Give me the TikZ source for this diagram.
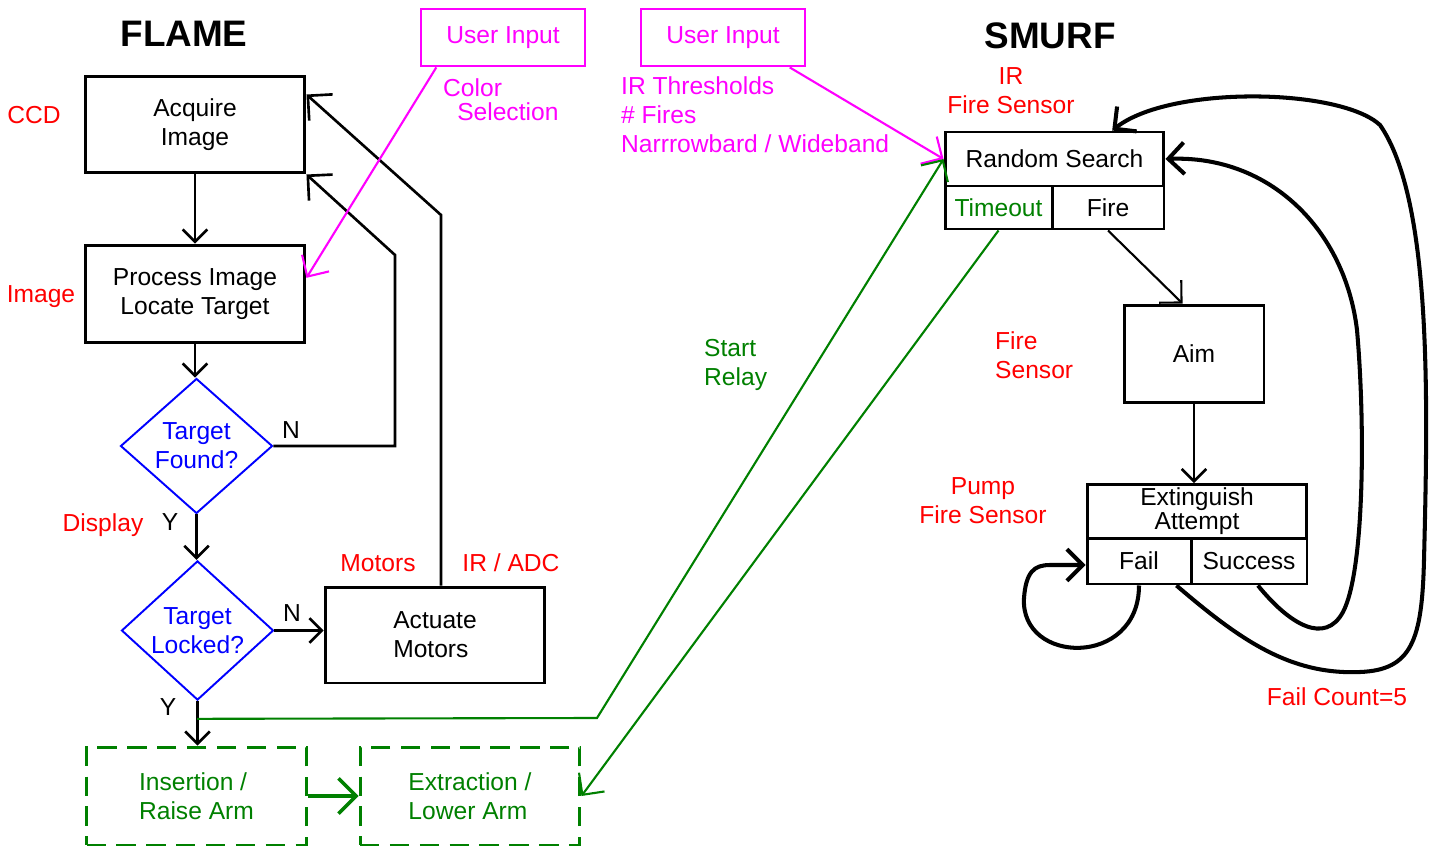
\documentclass[tikz,border=0pt]{standalone}
\usepackage{fontspec}
\setmainfont{Liberation Sans}
\usetikzlibrary{arrows.meta, shapes.geometric, calc}

\definecolor{relaygreen}{RGB}{0,128,0}
\definecolor{inputpink}{RGB}{255,0,255}

\begin{document}
\begin{tikzpicture}[
    x=0.02cm, y=-0.02cm, % one unit = one pixel of the sketch
    >={Straight Barb[length=7pt, width=14pt]}, % open V arrow heads
    font=\fontsize{14}{16.5}\selectfont,
    box/.style={draw, line width=1.7pt, inner sep=2pt, align=center},
    decision/.style={diamond, draw=blue, text=blue, line width=1.1pt, inner sep=0pt,
        minimum width=3.04cm, minimum height=2.7cm, align=center},
    userbox/.style={draw=inputpink, text=inputpink, line width=1.6pt,
        minimum width=3.28cm, minimum height=1.14cm},
    armbox/.style={draw=relaygreen, text=relaygreen, line width=1.7pt,
        dash pattern=on 11pt off 6pt, minimum width=4.4cm, minimum height=1.96cm, align=left},
    note/.style={text=red, align=left},
    heading/.style={font=\fontsize{21}{24}\selectfont\bfseries},
    flowline/.style={->, line width=1.5pt},
    backline/.style={->, line width=1.5pt, >={Straight Barb[length=10pt, width=20pt]}},
    thinline/.style={->, line width=1.2pt, >={Straight Barb[length=9pt, width=18pt]}},
    retline/.style={->, line width=2.3pt, >={Straight Barb[length=9pt, width=18pt]}}
]
\useasboundingbox (0,0) rectangle (1434,848);

% FLAME side
\node[heading] (flame) at (184,34) {FLAME};
\node[box, minimum width=4.4cm, minimum height=1.94cm] (acquire) at (195,124.5) {Acquire\\Image};
\node[box, minimum width=4.4cm, minimum height=1.96cm] (process) at (195,294) {Process Image\\Locate Target};
\node[decision] (found) at (196.5,446) {Target\\Found?};
\node[decision] (locked) at (197.5,630.5) {Target\\Locked?};
\node[box, minimum width=4.4cm, minimum height=1.92cm, align=left] (actuate) at (435,635) {Actuate\\Motors};
\node[armbox] (insert) at (196.5,796) {Insertion /\\Raise Arm};
\node[armbox] (extract) at (470,796) {Extraction /\\Lower Arm};

% Y / N answers
\node (nfound) at (291,430) {N};
\node (yfound) at (170,522) {Y};
\node (nlocked) at (292,613) {N};
\node (ylocked) at (168,707) {Y};

% red hardware notes
\node[note] (ccd) at (34,115) {CCD};
\node[note] (imglabel) at (41,297) {Image};
\node[note] (display) at (103,525) {Display};
\node[note] (motors) at (378,563) {Motors};
\node[note] (iradc) at (511,563) {IR / ADC};

% user inputs
\node[userbox] (user1) at (503,37.5) {User Input};
\node[userbox] (user2) at (723,37.5) {User Input};
\node[text=inputpink, align=left, anchor=west, font=\fontsize{14}{13.6}\selectfont] (colorsel) at (437,100) {Color\\\hspace*{8pt}Selection};
\node[text=inputpink, align=left, anchor=west] (irset) at (615,115) {IR Thresholds\\\# Fires\\Narrrowbard / Wideband};

% SMURF side
\node[heading] (smurf) at (1050,36) {SMURF};
\node[box, minimum width=4.38cm, minimum height=1.08cm] (search) at (1054.5,159) {Random Search};
\node[box, minimum width=2.14cm, minimum height=0.86cm, text=relaygreen] (timeout) at (998.5,207.5) {Timeout};
\node[box, minimum width=2.24cm, minimum height=0.86cm] (fire) at (1108,207.5) {Fire};
\node[box, minimum width=2.8cm, minimum height=1.96cm] (aim) at (1194,354) {Aim};
\node[box, minimum width=4.4cm, minimum height=1.06cm, font=\fontsize{14}{12.5}\selectfont] (exting) at (1197,511.5) {Extinguish\\Attempt};
\node[box, minimum width=2.08cm, minimum height=0.92cm] (fail) at (1139,561) {Fail};
\node[box, minimum width=2.32cm, minimum height=0.92cm] (success) at (1249,561) {Success};

\node[note, align=center] (irsensor) at (1011,91) {IR\\Fire Sensor};
\node[note, anchor=west] (firesensor) at (989,355) {Fire\\Sensor};
\node[note, align=center] (pump) at (983,501) {Pump\\Fire Sensor};
\node[note] (failcount) at (1337,697) {Fail Count=5};
\node[text=relaygreen, align=left, anchor=west] (relay) at (698,365) {Start\\Relay};

% main flow
\draw[flowline] (acquire.south) -- (process.north);
\draw[flowline] (process.south) -- (process.south |- found.north);
\draw[flowline] (found.south) -- (found.south |- locked.north);
\draw[flowline] (locked.east) -- (locked.east -| actuate.west);
\draw[flowline] (locked.south) -- (locked.south |- insert.north);

% feedback to Acquire Image
\coordinate (retfound) at (395,255);
\coordinate (retmotor) at (441,215);
\draw[backline] (found.east) -| (retfound) -- (acquire.south east);
\draw[backline] (actuate.north -| retmotor) -- (retmotor) -- ($(acquire.north east)!0.2!(acquire.south east)$);

% user input arrows
\draw[thinline, inputpink] ($(user1.south west)!0.1!(user1.south east)$) -- ($(process.north east)!0.34!(process.south east)$);
\draw[thinline, inputpink] ($(user2.south west)!0.9!(user2.south east)$) -- (search.west);

% relay lines
\coordinate (relaystart) at ($(locked.south)!0.4!(insert.north)$);
\coordinate (relaybend) at (597,718);
\draw[thinline, relaygreen] (relaystart) -- (relaybend) -- (search.west);
\draw[thinline, relaygreen] (timeout.south) -- (extract.east);
\draw[backline, relaygreen, line width=2pt] (insert) -- (extract);

% SMURF flow
\draw[thinline] (fire.south) -- ($(aim.north west)!0.42!(aim.north east)$);
\draw[flowline] (aim.south) -- (aim.south |- exting.north);

% retry loops
\draw[retline] (fail.south) .. controls (1139,668) and (1020,665) .. (1024,598)
    .. controls (1026,572) and (1034,565) .. (1050,565) -- (fail.west |- 1050,565);
\draw[retline] ($(success.south)!0.15!(success.south east)$) .. controls (1290,625) and (1325,645) .. (1343,612)
    .. controls (1365,570) and (1365,420) .. (1357,330)
    .. controls (1345,230) and (1270,155) .. (search.east);
\draw[retline] ($(fail.south)!0.7!(fail.south east)$) .. controls (1240,640) and (1290,675) .. (1360,672)
    .. controls (1412,670) and (1422,640) .. (1424,560)
    .. controls (1428,400) and (1432,200) .. (1380,125)
    .. controls (1340,88) and (1170,85) .. ($(search.north west)!0.76!(search.north east)$);

\end{tikzpicture}
\end{document}
